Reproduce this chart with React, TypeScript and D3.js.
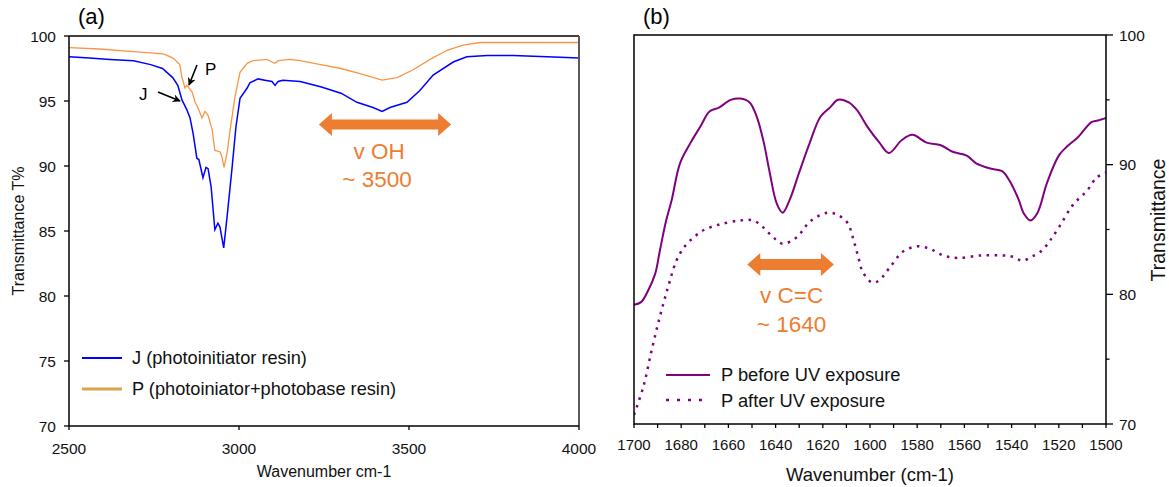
import React from "react";
import * as d3 from "d3";

// ---------- Panel (a) data ----------
const jWavenumber = [2500, 2560, 2620, 2690, 2740, 2775, 2805, 2820, 2832, 2847, 2856, 2865, 2876, 2882, 2894, 2903, 2909, 2918, 2924, 2929, 2938, 2944, 2955, 2965, 2979, 2991, 3003, 3024, 3032, 3056, 3076, 3097, 3106, 3115, 3129, 3180, 3240, 3300, 3347, 3394, 3421, 3444, 3494, 3532, 3571, 3630, 3670, 3730, 3806, 3906, 4000];
const jTransmittance = [98.4, 98.3, 98.2, 98.1, 97.8, 97.5, 96.8, 96.2, 95.1, 94.3, 93.7, 92.5, 90.6, 90.5, 89.1, 89.9, 89.8, 88.4, 86.6, 85.1, 85.6, 85.3, 83.7, 86.1, 89.7, 93.0, 95.2, 96.0, 96.4, 96.7, 96.6, 96.5, 96.2, 96.5, 96.6, 96.5, 96.1, 95.6, 94.9, 94.5, 94.2, 94.5, 94.9, 95.8, 97.0, 98.0, 98.4, 98.5, 98.5, 98.4, 98.3];

const pWavenumber = [2500, 2590, 2690, 2740, 2780, 2806, 2826, 2832, 2835, 2841, 2847, 2862, 2871, 2879, 2891, 2900, 2909, 2921, 2929, 2944, 2950, 2956, 2965, 2974, 2988, 3003, 3024, 3041, 3082, 3097, 3106, 3115, 3150, 3180, 3240, 3300, 3356, 3421, 3465, 3512, 3562, 3612, 3659, 3709, 3806, 3906, 4000];
const pTransmittance = [99.1, 99.0, 98.8, 98.7, 98.6, 98.3, 97.8, 96.8, 96.6, 96.0, 96.2, 95.7, 94.9, 94.5, 93.7, 94.2, 93.9, 92.8, 91.2, 91.1, 90.7, 89.9, 91.0, 92.8, 95.3, 97.2, 97.9, 98.1, 98.2, 98.0, 97.9, 98.1, 98.2, 98.1, 97.8, 97.5, 97.1, 96.6, 96.8, 97.4, 98.2, 98.9, 99.3, 99.5, 99.5, 99.5, 99.5];

const aXTicks = [2500, 3000, 3500, 4000];
const aYTicks = [70, 75, 80, 85, 90, 95, 100];
const aLegend = ["J (photoinitiator resin)", "P (photoiniator+photobase resin)"];
const aOHArrow = [3235, 3624, 93.2]; // x from, x to, y
const aOHText = ["v OH", "~ 3500"];

// ---------- Panel (b) data ----------
const beforeWavenumber = [1700, 1697, 1694, 1691, 1689, 1686.5, 1684, 1680.5, 1676, 1672, 1668, 1664, 1659, 1655, 1651, 1648, 1645, 1642.5, 1639.5, 1637, 1634, 1630, 1625.5, 1621, 1617, 1613.5, 1609, 1605.5, 1601, 1596, 1592, 1586.5, 1582, 1576, 1570, 1565, 1559, 1555, 1549, 1544, 1541, 1537, 1535, 1532, 1529, 1525, 1520, 1516.5, 1512, 1506, 1503.5, 1500];
const beforeTransmittance = [79.2, 79.4, 80.3, 81.6, 83.4, 85.6, 87.3, 90.1, 91.7, 92.9, 94.1, 94.4, 95.0, 95.1, 94.8, 93.7, 91.7, 89.4, 87.0, 86.3, 87.3, 89.4, 91.7, 93.7, 94.4, 95.0, 94.8, 94.2, 92.9, 91.7, 90.9, 91.9, 92.3, 91.7, 91.5, 91.0, 90.7, 90.1, 89.7, 89.5, 88.8, 87.3, 86.3, 85.7, 86.3, 88.6, 90.7, 91.4, 92.1, 93.3, 93.4, 93.6];

const afterWavenumber = [1700, 1696, 1692.5, 1689, 1685.5, 1682, 1678.5, 1674, 1670, 1663.5, 1655, 1649.5, 1645.5, 1641, 1637, 1631, 1625.5, 1618, 1613.5, 1609.5, 1607, 1605, 1603, 1599, 1596, 1591.5, 1586, 1580, 1574.5, 1569, 1563, 1553, 1543.5, 1539.5, 1535.5, 1531.5, 1527, 1523.5, 1519.5, 1514, 1508, 1504, 1500];
const afterTransmittance = [70.7, 72.9, 75.7, 78.3, 80.6, 82.6, 83.7, 84.5, 85.0, 85.4, 85.7, 85.7, 85.2, 84.4, 83.9, 84.4, 85.6, 86.3, 86.1, 85.5, 84.2, 82.9, 81.7, 80.9, 81.1, 82.1, 83.3, 83.7, 83.5, 83.0, 82.8, 83.0, 83.0, 82.9, 82.6, 82.9, 83.4, 84.2, 85.3, 86.9, 88.0, 89.0, 89.4];

const bXTicks = [1700, 1690, 1680, 1670, 1660, 1650, 1640, 1630, 1620, 1610, 1600, 1590, 1580, 1570, 1560, 1550, 1540, 1530, 1520, 1510, 1500];
const bYMajor = [70, 80, 90, 100];
const bYMinor = [75, 85, 95];
const bLegend = ["P before UV exposure", "P after UV exposure"];
const bCCArrow = [1652, 1615.3, 82.3];
const bCCText = ["v C=C", "~ 1640"];

const FONT = "'Liberation Sans', Arial, Helvetica, sans-serif";
const ORANGE = "#ED7D31";
const PURPLE = "#800080";

function doubleArrow(x1: number, x2: number, y: number, sh: number, hh: number, hl: number) {
  return `M${x1},${y} L${x1 + hl},${y - hh} L${x1 + hl},${y - sh} L${x2 - hl},${y - sh} L${x2 - hl},${y - hh} L${x2},${y} L${x2 - hl},${y + hh} L${x2 - hl},${y + sh} L${x1 + hl},${y + sh} L${x1 + hl},${y + hh} Z`;
}

export default function App() {
  // Panel (a)
  const aL = 69, aR = 579, aT = 36, aB = 426;
  const xa = d3.scaleLinear().domain([2500, 4000]).range([aL, aR]);
  const ya = d3.scaleLinear().domain([70, 100]).range([aB, aT]);
  const lineA = d3.line<[number, number]>().x((d) => xa(d[0])).y((d) => ya(d[1])).curve(d3.curveLinear);
  const jPath = lineA(jWavenumber.map((w, i) => [w, jTransmittance[i]]) as [number, number][]) || "";
  const pPath = lineA(pWavenumber.map((w, i) => [w, pTransmittance[i]]) as [number, number][]) || "";

  // Panel (b)
  const bL = 634, bR = 1106, bT = 35, bB = 424;
  const xb = d3.scaleLinear().domain([1700, 1500]).range([bL, bR]);
  const yb = d3.scaleLinear().domain([70, 100]).range([bB, bT]);
  const lineB = d3.line<[number, number]>().x((d) => xb(d[0])).y((d) => yb(d[1])).curve(d3.curveCatmullRom.alpha(0.5));
  const beforePath = lineB(beforeWavenumber.map((w, i) => [w, beforeTransmittance[i]]) as [number, number][]) || "";
  const afterPath = lineB(afterWavenumber.map((w, i) => [w, afterTransmittance[i]]) as [number, number][]) || "";

  const ohX1 = xa(aOHArrow[0]), ohX2 = xa(aOHArrow[1]), ohY = ya(aOHArrow[2]);
  const ccX1 = xb(bCCArrow[0]), ccX2 = xb(bCCArrow[1]), ccY = yb(bCCArrow[2]);

  return (
    <svg width={1169} height={487} style={{ position: "absolute", left: 0, top: 0, background: "#fff" }} fontFamily={FONT}>
      <defs>
        <marker id="ah" viewBox="0 0 10 10" refX="9" refY="5" markerWidth="8" markerHeight="8" orient="auto-start-reverse" markerUnits="userSpaceOnUse">
          <path d="M0,0 L10,5 L0,10 L3,5 Z" fill="#000" />
        </marker>
        <clipPath id="clipA"><rect x={aL} y={aT} width={aR - aL} height={aB - aT} /></clipPath>
        <clipPath id="clipB"><rect x={bL} y={bT} width={bR - bL} height={bB - bT} /></clipPath>
      </defs>

      {/* ================= Panel (a) ================= */}
      <text x={78} y={24} fontSize={22} fill="#000">(a)</text>
      <g clipPath="url(#clipA)">
        <path d={pPath} fill="none" stroke="#F79646" strokeWidth={1.3} />
        <path d={jPath} fill="none" stroke="#0000FF" strokeWidth={1.5} />
      </g>
      {/* frame */}
      <line x1={aL} x2={aR} y1={aT} y2={aT} stroke="#000" strokeWidth={1.5} />
      <line x1={aR} x2={aR} y1={aT} y2={aB} stroke="#5a5a5a" strokeWidth={2} />
      <line x1={aL} x2={aL} y1={aT} y2={aB} stroke="#000" strokeWidth={1.5} />
      <line x1={aL} x2={aR} y1={aB} y2={aB} stroke="#000" strokeWidth={1.5} />
      {aYTicks.map((t) => (
        <g key={"ay" + t}>
          <line x1={aL - 5} x2={aL} y1={ya(t)} y2={ya(t)} stroke="#000" strokeWidth={1.3} />
          <text x={aL - 13} y={ya(t)} dy="0.36em" textAnchor="end" fontSize={15.5} fill="#111">{t}</text>
        </g>
      ))}
      {aXTicks.map((t) => (
        <g key={"ax" + t}>
          <line x1={xa(t)} x2={xa(t)} y1={aB} y2={aB + 4} stroke="#000" strokeWidth={1.3} />
          <text x={xa(t)} y={454} textAnchor="middle" fontSize={15.5} fill="#111">{t}</text>
        </g>
      ))}
      <text x={(aL + aR) / 2} y={477} textAnchor="middle" fontSize={16} fill="#111">Wavenumber cm-1</text>
      <text transform={`translate(24,${(aT + aB) / 2}) rotate(-90)`} textAnchor="middle" fontSize={16} fill="#111">Transmittance T%</text>

      {/* J / P labels with arrows */}
      <text x={139} y={100} fontSize={17} fill="#000">J</text>
      <line x1={158} y1={92} x2={180} y2={101} stroke="#000" strokeWidth={1.6} markerEnd="url(#ah)" />
      <text x={205} y={75} fontSize={17} fill="#000">P</text>
      <line x1={197} y1={65} x2={189} y2={85} stroke="#000" strokeWidth={1.6} markerEnd="url(#ah)" />

      {/* OH arrow */}
      <path d={doubleArrow(ohX1, ohX2, ohY, 5, 11.5, 13)} fill={ORANGE} />
      <text x={(ohX1 + ohX2) / 2 - 6} y={159} textAnchor="middle" fontSize={22.5} fill={ORANGE}>{aOHText[0]}</text>
      <text x={(ohX1 + ohX2) / 2 - 8} y={187} textAnchor="middle" fontSize={22.5} fill={ORANGE}>{aOHText[1]}</text>

      {/* legend (a) */}
      <line x1={82} x2={122} y1={358} y2={358} stroke="#0000FF" strokeWidth={1.8} />
      <text x={132} y={364} fontSize={18.2} fill="#111">{aLegend[0]}</text>
      <line x1={82} x2={122} y1={389} y2={389} stroke="#D9A44C" strokeWidth={3} />
      <text x={132} y={395} fontSize={18.2} fill="#111">{aLegend[1]}</text>

      {/* ================= Panel (b) ================= */}
      <text x={643} y={24} fontSize={22} fill="#000">(b)</text>
      <g clipPath="url(#clipB)">
        <path d={beforePath} fill="none" stroke={PURPLE} strokeWidth={2} />
        <path d={afterPath} fill="none" stroke={PURPLE} strokeWidth={2.5} strokeDasharray="2.5 5.5" />
      </g>
      <rect x={bL} y={bT} width={bR - bL} height={bB - bT} fill="none" stroke="#000" strokeWidth={1.5} />
      {bXTicks.map((t, i) => (
        <g key={"bx" + t}>
          <line x1={xb(t)} x2={xb(t)} y1={bB} y2={bB + 4} stroke="#000" strokeWidth={1.3} />
          {i % 2 === 0 && (
            <text x={xb(t)} y={450} textAnchor="middle" fontSize={15} fill="#111">{t}</text>
          )}
        </g>
      ))}
      {bYMajor.map((t) => (
        <g key={"by" + t}>
          <line x1={bR} x2={bR + 7} y1={yb(t)} y2={yb(t)} stroke="#000" strokeWidth={1.3} />
          <text x={bR + 13} y={yb(t)} dy="0.36em" textAnchor="start" fontSize={15.5} fill="#111">{t}</text>
        </g>
      ))}
      {bYMinor.map((t) => (
        <line key={"bym" + t} x1={bR} x2={bR + 3.5} y1={yb(t)} y2={yb(t)} stroke="#000" strokeWidth={1.3} />
      ))}
      <text x={(bL + bR) / 2} y={481} textAnchor="middle" fontSize={18.5} fill="#111">Wavenumber (cm-1)</text>
      <text transform={`translate(1165,220) rotate(-90)`} textAnchor="middle" fontSize={19.5} fill="#111">Transmittance</text>

      {/* C=C arrow */}
      <path d={doubleArrow(ccX1, ccX2, ccY, 5.5, 11.5, 13)} fill={ORANGE} />
      <text x={(ccX1 + ccX2) / 2 + 1} y={303} textAnchor="middle" fontSize={22.5} fill={ORANGE}>{bCCText[0]}</text>
      <text x={(ccX1 + ccX2) / 2 + 1} y={332} textAnchor="middle" fontSize={22.5} fill={ORANGE}>{bCCText[1]}</text>

      {/* legend (b) */}
      <line x1={666} x2={710} y1={375} y2={375} stroke={PURPLE} strokeWidth={2} />
      <text x={721} y={381} fontSize={18.3} fill="#111">{bLegend[0]}</text>
      <line x1={666} x2={710} y1={400} y2={400} stroke={PURPLE} strokeWidth={2.5} strokeDasharray="3 8" />
      <text x={721} y={407} fontSize={18.3} fill="#111">{bLegend[1]}</text>
    </svg>
  );
}
